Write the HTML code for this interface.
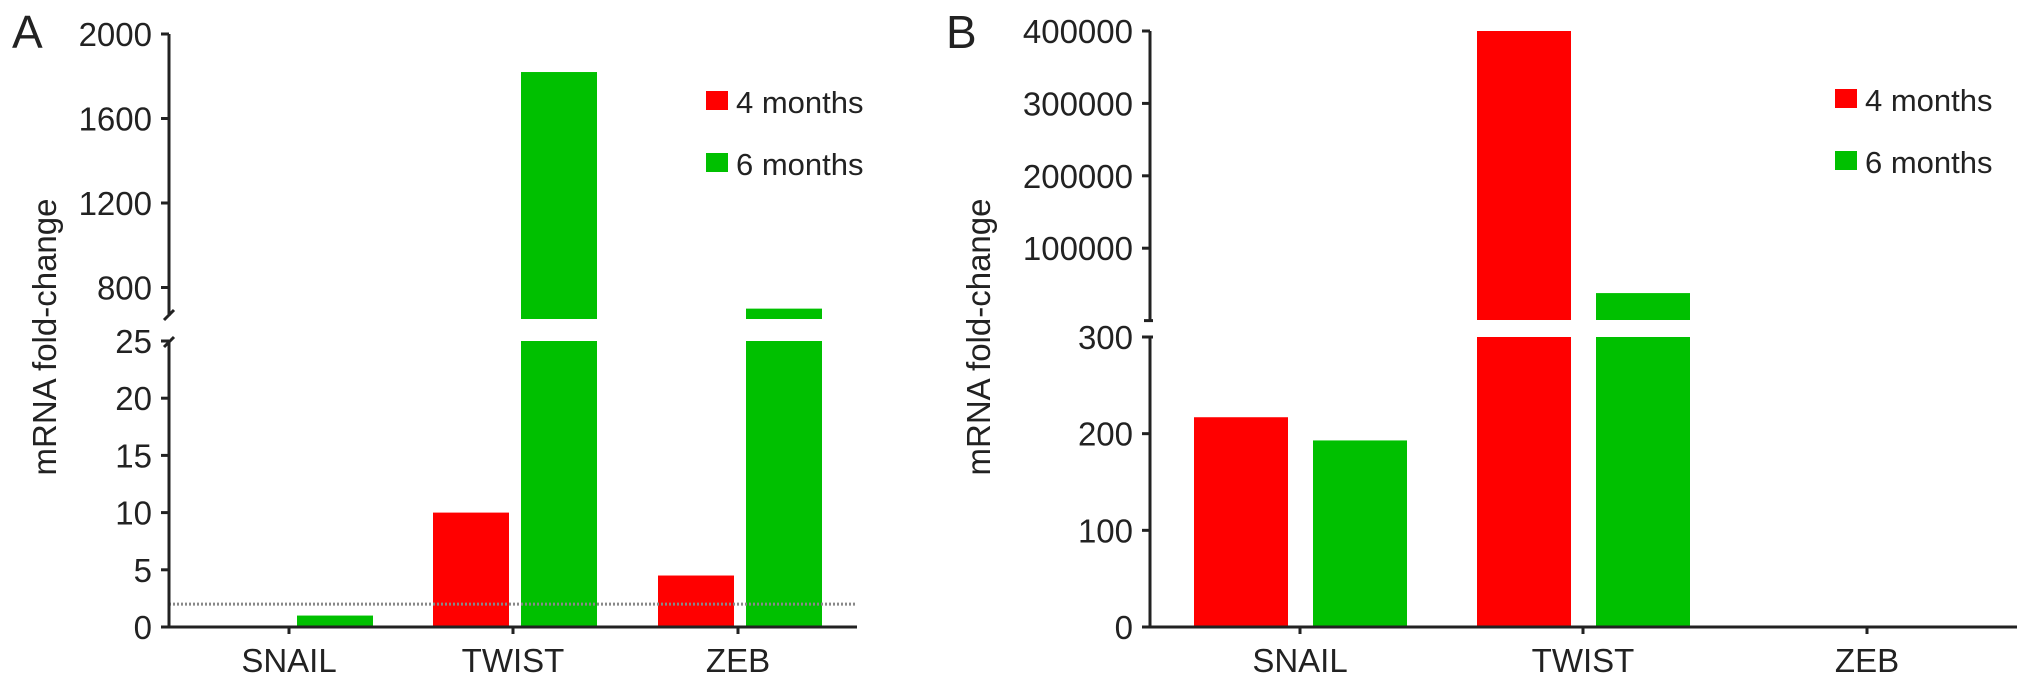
<!DOCTYPE html>
<html><head><meta charset="utf-8"><style>
html,body{margin:0;padding:0;background:#fff}
svg{display:block}
text{font-family:"Liberation Sans",Arial,sans-serif;fill:#222}
</style></head><body>
<svg id="c" width="2032" height="687" viewBox="0 0 2032 687" xmlns="http://www.w3.org/2000/svg"></svg>
<script>
const categories = ["SNAIL","TWIST","ZEB"];
const seriesNames = ["4 months","6 months"];
const aRed = [0.1, 10, 4.5];
const aGreen = [1, 1820, 700];
const bRed = [217, 400000, 0];
const bGreen = [193, 38000, 0];
const aLowTicks = [0,5,10,15,20,25];
const aHighTicks = [800,1200,1600,2000];
const bLowTicks = [0,100,200,300];
const bHighTicks = [100000,200000,300000,400000];
const aThreshold = 2;

const NS="http://www.w3.org/2000/svg";
const svg=document.getElementById('c');
function el(t,a,p){const e=document.createElementNS(NS,t);for(const k in a)e.setAttribute(k,a[k]);(p||svg).appendChild(e);return e;}
const RED="#ff0000", GREEN="#00c000", AX="#222";

function panel(cfg){
  const g=el('g',{});
  
  
  const lo=v=>cfg.base-v*(cfg.base-cfg.loTop)/cfg.loMax;
  const hi=v=>cfg.hiY0-(v-cfg.hiMin)*cfg.hiScale;
  [cfg.red,cfg.green].forEach((arr,si)=>{
    arr.forEach((v,i)=>{
      if(v<=0) return;
      const cx=cfg.cats[i]+cfg.off[si];
      const x=cx-cfg.bw/2;
      const col=si===0?RED:GREEN;
      const lv=Math.min(v,cfg.loMax);
      const r=el('rect',{x:x,y:lo(lv),width:cfg.bw,height:Math.max(cfg.base-lo(lv),1.5),fill:col},g);
      
      
      if(v>cfg.loMax){
        const top=hi(v);
        const r2=el('rect',{x:x,y:top,width:cfg.bw,height:cfg.hiBarBottom-top,fill:col},g);
        
        
      }
    });
  });
  if(cfg.threshold!==undefined){
    const ln=el('line',{x1:cfg.ax,x2:cfg.xEnd,y1:lo(cfg.threshold),y2:lo(cfg.threshold),stroke:'#888','stroke-width':3,'stroke-dasharray':'2 2'},g);
    
    
  }
  const ya=el('g',{},g);
  
  
  el('line',{x1:cfg.ax,x2:cfg.ax,y1:cfg.hiTopLine,y2:cfg.hiAxisBottom,stroke:AX,'stroke-width':3},ya);
  el('line',{x1:cfg.ax,x2:cfg.ax,y1:cfg.loTop,y2:cfg.base+1.5,stroke:AX,'stroke-width':3},ya);
  if(cfg.slash){
    el('line',{x1:cfg.ax-5,x2:cfg.ax+5,y1:cfg.hiAxisBottom+4,y2:cfg.hiAxisBottom-6,stroke:AX,'stroke-width':3},ya);
    el('line',{x1:cfg.ax-5,x2:cfg.ax+5,y1:cfg.loTop+6,y2:cfg.loTop-4,stroke:AX,'stroke-width':3},ya);
  } else {
    el('line',{x1:cfg.ax-6,x2:cfg.ax+3,y1:cfg.hiAxisBottom,y2:cfg.hiAxisBottom,stroke:AX,'stroke-width':3},ya);
    el('line',{x1:cfg.ax-6,x2:cfg.ax+3,y1:cfg.loTop,y2:cfg.loTop,stroke:AX,'stroke-width':3},ya);
  }
  const tick=(y,label)=>{
    el('line',{x1:cfg.ax-8,x2:cfg.ax,y1:y,y2:y,stroke:AX,'stroke-width':3},ya);
    const t=el('text',{x:cfg.ax-17,y:y+12,'text-anchor':'end','font-size':33},ya);
    t.textContent=label;
    
    
  };
  cfg.loTicks.forEach(v=>tick(lo(v),String(v)));
  cfg.hiTicks.forEach(v=>tick(hi(v),String(v)));
  const xa=el('g',{},g);
  
  
  el('line',{x1:cfg.ax,x2:cfg.xEnd,y1:cfg.base,y2:cfg.base,stroke:AX,'stroke-width':3},xa);
  cfg.cats.forEach((cx,i)=>{
    el('line',{x1:cx,x2:cx,y1:cfg.base,y2:cfg.base+7,stroke:AX,'stroke-width':3},xa);
    const t=el('text',{x:cx,y:672,'text-anchor':'middle','font-size':33},xa);
    t.textContent=categories[i];
    
    
  });
  const tt=el('text',{x:0,y:0,'text-anchor':'middle','font-size':33,transform:`translate(${cfg.titleX},337) rotate(-90)`},g);
  tt.textContent='mRNA fold-change';
  
  
  const pl=el('text',{x:cfg.letterX,y:48,'font-size':46},g);
  pl.textContent=cfg.letter;
  
  
  [RED,GREEN].forEach((c,si)=>{
    const lg=el('g',{},g);
    
    
    el('rect',{x:cfg.legX,y:cfg.legY+si*62,width:22,height:19,fill:c},lg);
    const t=el('text',{x:cfg.legX+30,y:cfg.legY+si*62+22,'font-size':31},lg);
    t.textContent=seriesNames[si];
  });
}

panel({name:'panel-a',letter:'A',letterX:12,ax:169,xEnd:857,base:627,loTop:341,loMax:25,
  hiY0:287.5,hiMin:800,hiScale:(287.5-34)/1200,hiBarBottom:319,hiTopLine:34,hiAxisBottom:316,
  cats:[289,513,738],off:[-42,46],bw:76,red:aRed,green:aGreen,threshold:aThreshold,
  loTicks:aLowTicks,hiTicks:aHighTicks,slash:true,titleX:56,legX:706,legY:91});
panel({name:'panel-b',letter:'B',letterX:946,ax:1150,xEnd:2017,base:627,loTop:337,loMax:300,
  hiY0:320.6,hiMin:0,hiScale:(320.6-31)/400000,hiBarBottom:320,hiTopLine:31,hiAxisBottom:320.6,
  cats:[1300,1583,1867],off:[-59,60],bw:94,red:bRed,green:bGreen,
  loTicks:bLowTicks,hiTicks:bHighTicks,slash:false,titleX:990,legX:1835,legY:89});
</script>
</body></html>
